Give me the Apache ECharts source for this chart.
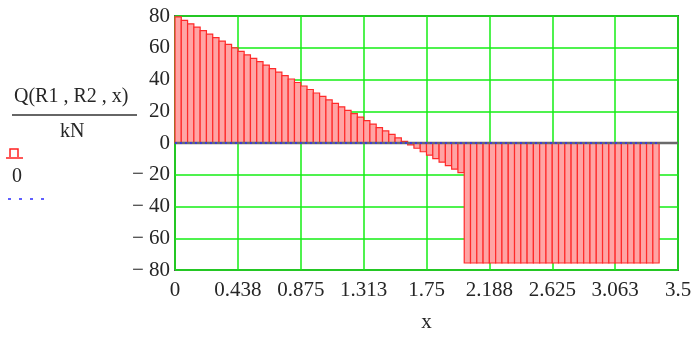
<!DOCTYPE html>
<html>
<head>
<meta charset="utf-8">
<script src="https://cdn.jsdelivr.net/npm/echarts@6/dist/echarts.min.js"></script>
<style>
  html, body { margin: 0; padding: 0; background: #ffffff; }
  #chart { width: 697px; height: 338px; }
</style>
</head>
<body>
<div id="chart"></div>
<script>
// Shear force Q(R1, R2, x) in kN, sampled along the beam
const xStep = 0.04375;
const shearValues = [
  79.5, 77.3, 75.1, 73.0, 70.8, 68.6, 66.4, 64.2, 62.1, 59.9,
  57.7, 55.5, 53.3, 51.2, 49.0, 46.8, 44.6, 42.4, 40.3, 38.1,
  35.9, 33.7, 31.5, 29.4, 27.2, 25.0, 22.8, 20.6, 18.5, 16.3,
  14.1, 11.9, 9.7, 7.6, 5.4, 3.2, 1.0, -1.2, -3.3, -5.5,
  -7.7, -9.9, -12.1, -14.2, -16.4, -18.6,
  -75.6, -75.6, -75.6, -75.6, -75.6, -75.6, -75.6, -75.6, -75.6, -75.6,
  -75.6, -75.6, -75.6, -75.6, -75.6, -75.6, -75.6, -75.6, -75.6, -75.6,
  -75.6, -75.6, -75.6, -75.6, -75.6, -75.6, -75.6, -75.6, -75.6, -75.6,
  -75.6
];
// second trace: the constant 0
const zeroTraceX = [0, 3.36875];
const zeroTraceY = [0, 0];

const xTickLabels = ['0', '0.438', '0.875', '1.313', '1.75', '2.188', '2.625', '3.063', '3.5'];
const xTickStep = 0.4375;
const yMin = -80, yMax = 80, yTickStep = 20;

const serif = '"Liberation Serif", "DejaVu Serif", serif';
const textColor = '#262626';

const barData = shearValues.map((q, i) => [i * xStep, q]);
const zeroData = zeroTraceX.map((x, i) => [x, zeroTraceY[i]]);

const chart = echarts.init(document.getElementById('chart'), null, { renderer: 'canvas' });

chart.setOption({
  animation: false,
  backgroundColor: '#ffffff',
  grid: {
    left: 175, right: 19, top: 16, bottom: 65,
    show: true, borderColor: '#555555', borderWidth: 2, backgroundColor: 'transparent'
  },
  xAxis: {
    type: 'value', min: 0, max: 3.5, interval: xTickStep,
    name: 'x', nameLocation: 'middle', nameGap: 42,
    nameTextStyle: { fontFamily: serif, fontSize: 21, color: textColor },
    axisLine: { show: false },
    axisTick: { show: false },
    axisLabel: {
      margin: 10, fontFamily: serif, fontSize: 21, color: textColor,
      formatter: v => xTickLabels[Math.round(v / xTickStep)] || ''
    },
    splitLine: { show: true, lineStyle: { color: '#14ee14', width: 1.5 } }
  },
  yAxis: {
    type: 'value', min: yMin, max: yMax, interval: yTickStep,
    axisLine: { show: false },
    axisTick: { show: false },
    axisLabel: {
      margin: 5, fontFamily: serif, fontSize: 21, color: textColor,
      formatter: v => v < 0 ? '\u2212 ' + Math.abs(v) : String(v)
    },
    splitLine: { show: true, lineStyle: { color: '#14ee14', width: 1.5 } }
  },
  series: [
    {
      type: 'custom',
      name: 'Q',
      data: barData,
      z: 2,
      renderItem: (params, api) => {
        const x0 = api.value(0);
        const q = api.value(1);
        const a = api.coord([x0, 0]);
        const b = api.coord([x0 + xStep, q]);
        return {
          type: 'rect',
          shape: {
            x: a[0], y: Math.min(a[1], b[1]),
            width: b[0] - a[0], height: Math.abs(b[1] - a[1])
          },
          style: { fill: '#ffa4a4', stroke: '#ff2a2a', lineWidth: 1.2 }
        };
      }
    },
    {
      // x axis crossing at zero
      type: 'line',
      data: [[0, 0], [3.5, 0]],
      symbol: 'none',
      z: 3,
      lineStyle: { color: '#6a6a6a', width: 2.5 }
    },
    {
      type: 'line',
      name: '0',
      data: zeroData,
      symbol: 'none',
      z: 4,
      lineStyle: { color: '#2a2aff', width: 1.5, type: [2, 3] }
    }
  ],
  graphic: [
    {
      type: 'text', left: 14, top: 87,
      style: { text: 'Q(R1 , R2 , x)', font: '20px ' + serif, fill: textColor }
    },
    {
      type: 'line', shape: { x1: 12, y1: 115, x2: 137, y2: 115 },
      style: { stroke: '#333333', lineWidth: 1.5 }
    },
    {
      type: 'text', left: 60, top: 122,
      style: { text: 'kN', font: '20px ' + serif, fill: textColor }
    },
    {
      type: 'polyline', shape: { points: [[10, 157], [10, 149], [18, 149], [18, 157]] },
      style: { stroke: '#ff2020', lineWidth: 1.5, fill: 'none' }
    },
    {
      type: 'line', shape: { x1: 6, y1: 158, x2: 23, y2: 158 },
      style: { stroke: '#ff2020', lineWidth: 1.5 }
    },
    {
      type: 'text', left: 12, top: 167,
      style: { text: '0', font: '20px ' + serif, fill: textColor }
    },
    {
      type: 'line', shape: { x1: 8, y1: 199, x2: 46, y2: 199 },
      style: { stroke: '#2a2aff', lineWidth: 1.5, lineDash: [3, 8] }
    }
  ]
});
</script>
</body>
</html>
